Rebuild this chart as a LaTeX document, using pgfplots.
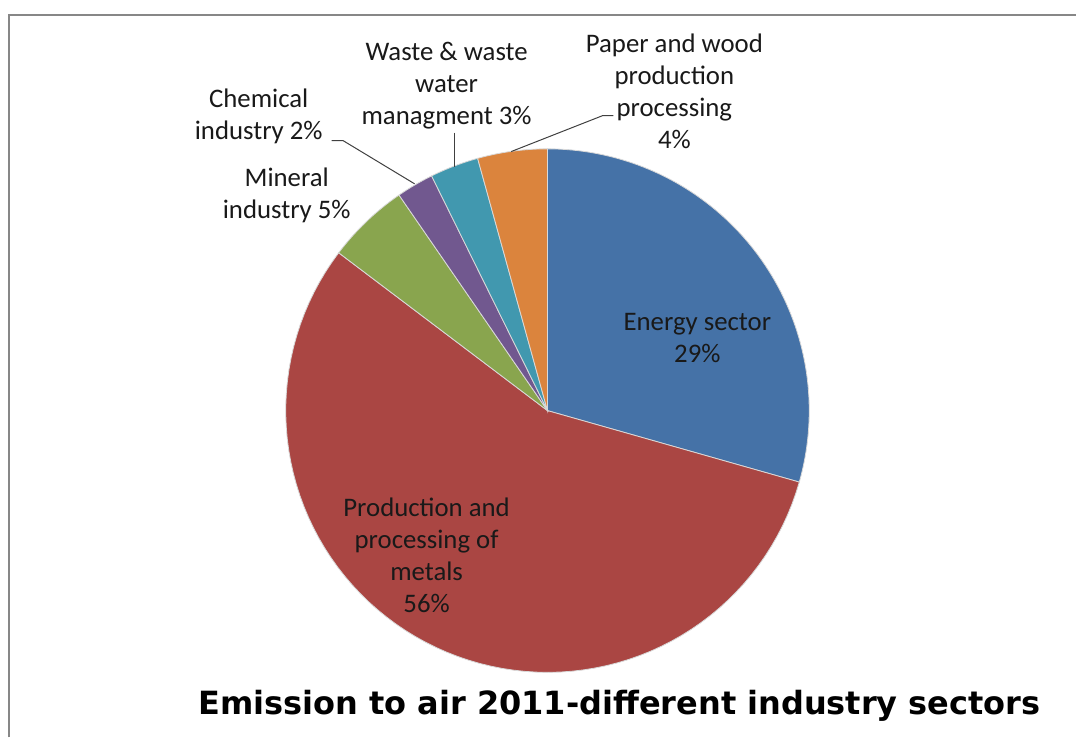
\documentclass[border=0pt]{standalone}
\usepackage{pgfplots}
\pgfplotsset{compat=1.18}
\usepackage{pgfplotstable}
\usepackage{fontspec}
\setmainfont{Carlito}
\newfontfamily\titlefont{DejaVu Sans}
\definecolor{cEnergy}{HTML}{4572A7}
\definecolor{cMetal}{HTML}{AA4643}
\definecolor{cMineral}{HTML}{89A54E}
\definecolor{cChem}{HTML}{71588F}
\definecolor{cWaste}{HTML}{4198AF}
\definecolor{cPaper}{HTML}{DB843D}
% shares of the pie, percent (clockwise from 12 o'clock)
\pgfplotstableread{
sector share
Energy 29.4
Metals 55.9
Mineral 5.1
Chemical 2.3
Waste 3.0
Paper 4.3
}\sharetable
\newcommand\getshare[2]{\pgfplotstablegetelem{#1}{share}\of\sharetable\let#2\pgfplotsretval}
\getshare{0}{\pA}\getshare{1}{\pB}\getshare{2}{\pC}\getshare{3}{\pD}\getshare{4}{\pE}\getshare{5}{\pF}
\pgfmathsetmacro\aO{90}
\pgfmathsetmacro\aA{\aO-3.6*\pA}
\pgfmathsetmacro\aB{\aA-3.6*\pB}
\pgfmathsetmacro\aC{\aB-3.6*\pC}
\pgfmathsetmacro\aD{\aC-3.6*\pD}
\pgfmathsetmacro\aE{\aD-3.6*\pE}
\pgfmathsetmacro\aF{\aE-3.6*\pF}
\begin{document}
\begin{tikzpicture}
\begin{axis}[scale only axis, width=538.5pt, height=369pt,
  xmin=0, xmax=1077, ymin=0, ymax=738, axis lines=none, clip=false,
  every axis plot/.append style={draw=white!85!black, line width=0.4pt, samples=80}]
\path (axis cs:0,0) rectangle (axis cs:1077,738);
\draw[line width=1pt, black!47] (axis cs:9,0) -- (axis cs:9,723) -- (axis cs:1077,723);
\addplot[fill=cEnergy, domain=\aA:\aO] ({548+262*cos(x)},{327+262*sin(x)}) -- (axis cs:548,327) -- cycle;
\addplot[fill=cMetal, domain=\aB:\aA] ({548+262*cos(x)},{327+262*sin(x)}) -- (axis cs:548,327) -- cycle;
\addplot[fill=cMineral, domain=\aC:\aB] ({548+262*cos(x)},{327+262*sin(x)}) -- (axis cs:548,327) -- cycle;
\addplot[fill=cChem, domain=\aD:\aC] ({548+262*cos(x)},{327+262*sin(x)}) -- (axis cs:548,327) -- cycle;
\addplot[fill=cWaste, domain=\aE:\aD] ({548+262*cos(x)},{327+262*sin(x)}) -- (axis cs:548,327) -- cycle;
\addplot[fill=cPaper, domain=\aF:\aE] ({548+262*cos(x)},{327+262*sin(x)}) -- (axis cs:548,327) -- cycle;
% leader lines
\draw[black!75, line width=0.5pt] (axis cs:332,597.3) -- (axis cs:343.3,597.3) -- (axis cs:415,554);
\draw[black!75, line width=0.5pt] (axis cs:455,605.3) -- (axis cs:455,571.3);
\draw[black!75, line width=0.5pt] (axis cs:511.7,586.3) -- (axis cs:603.3,622.3) -- (axis cs:614,622.3);
% labels
\tikzset{lbl/.style={align=center, font=\fontsize{13.4}{16}\selectfont, text=black!90, inner sep=0pt}}
\node[lbl] at (axis cs:698,400) {Energy sector\\29\%};
\node[lbl] at (axis cs:427,182.5) {Production and\\processing of\\metals\\56\%};
\node[lbl] at (axis cs:287,542.5) {Mineral\\industry 5\%};
\node[lbl] at (axis cs:259,621.5) {Chemical\\industry 2\%};
\node[lbl] at (axis cs:447,652.5) {Waste \& waste\\water\\managment 3\%};
\node[lbl] at (axis cs:675,646.5) {Paper and wood\\production\\processing\\4\%};
\node[inner sep=0pt, font=\titlefont\bfseries\fontsize{16}{19}\selectfont] at (axis cs:620,32) {Emission to air 2011-different industry sectors};
\end{axis}
\end{tikzpicture}
\end{document}
